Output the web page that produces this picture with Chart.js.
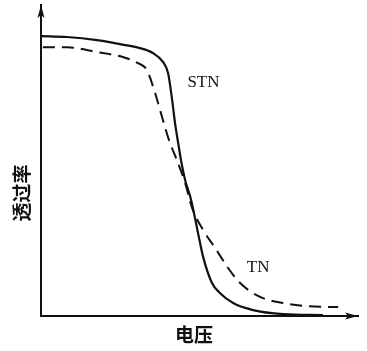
<!DOCTYPE html>
<html><head><meta charset="utf-8">
<script src="https://cdn.jsdelivr.net/npm/chart.js@4.4.1/dist/chart.umd.min.js"></script>
<style>html,body{margin:0;padding:0;background:#fff;}#wrap{width:367px;height:351px;}</style>
</head><body><div id="wrap"><canvas id="c" width="367" height="351"></canvas></div>
<script>
// Voltage (arbitrary units) and transmittance (0..1)
const stnVoltage = [0, 0.82, 1.77, 2.50, 3.13, 3.54, 3.86, 4.02, 4.15, 4.24, 4.34, 4.43, 4.56, 4.75, 4.97, 5.13, 5.41, 5.66, 6.08, 6.71, 7.66, 8.92];
const stnTrans   = [0.909, 0.906, 0.896, 0.883, 0.870, 0.854, 0.825, 0.789, 0.701, 0.627, 0.562, 0.506, 0.442, 0.377, 0.269, 0.192, 0.107, 0.075, 0.042, 0.019, 0.006, 0.003];
const tnVoltage  = [0.06, 0.82, 1.77, 2.59, 3.07, 3.35, 3.61, 3.83, 4.05, 4.30, 4.56, 4.78, 5.13, 5.51, 5.92, 6.30, 6.93, 7.66, 8.42, 9.40];
const tnTrans    = [0.873, 0.873, 0.857, 0.841, 0.821, 0.799, 0.724, 0.646, 0.571, 0.506, 0.432, 0.351, 0.279, 0.221, 0.156, 0.107, 0.062, 0.042, 0.032, 0.029];
const seriesNames = ['STN', 'TN'];
const xTitle = '电压';
const yTitle = '透过率';

const toPts = (xs, ys) => xs.map((x, i) => ({x: x, y: ys[i]}));
const INK = '#111';

const decor = {
  id: 'decor',
  afterDraw(chart) {
    const ctx = chart.ctx, a = chart.chartArea;
    const xs = chart.scales.x, ys = chart.scales.y;
    ctx.save();
    ctx.fillStyle = INK;
    // y arrow
    const x0 = xs.getPixelForValue(xs.min);
    ctx.beginPath();
    ctx.moveTo(x0, a.top);
    ctx.lineTo(x0 - 3.5, a.top + 13);
    ctx.lineTo(x0, a.top + 10);
    ctx.lineTo(x0 + 3.5, a.top + 13);
    ctx.closePath(); ctx.fill();
    // x arrow
    const y0 = ys.getPixelForValue(ys.min);
    ctx.beginPath();
    ctx.moveTo(a.right, y0);
    ctx.lineTo(a.right - 13, y0 - 3.5);
    ctx.lineTo(a.right - 10, y0);
    ctx.lineTo(a.right - 13, y0 + 3.5);
    ctx.closePath(); ctx.fill();
    // series labels
    ctx.font = '17px "Liberation Serif", serif';
    ctx.textAlign = 'center'; ctx.textBaseline = 'middle';
    ctx.fillText(seriesNames[0], xs.getPixelForValue(5.14), ys.getPixelForValue(0.758));
    ctx.fillText(seriesNames[1], xs.getPixelForValue(6.87), ys.getPixelForValue(0.158));
    // axis titles
    ctx.font = 'bold 19px "Noto Sans CJK SC", sans-serif';
    ctx.fillText(xTitle, 194, 335);
    ctx.translate(22, 193);
    ctx.rotate(-Math.PI / 2);
    ctx.fillText(yTitle, 0, 0);
    ctx.restore();
  }
};

new Chart(document.getElementById('c'), {
  type: 'line',
  data: {
    datasets: [
      {label: seriesNames[0], data: toPts(stnVoltage, stnTrans), borderColor: INK, borderWidth: 2.2,
       pointRadius: 0, cubicInterpolationMode: 'monotone', fill: false},
      {label: seriesNames[1], data: toPts(tnVoltage, tnTrans), borderColor: INK, borderWidth: 2,
       borderDash: [12, 7], pointRadius: 0, cubicInterpolationMode: 'monotone', fill: false}
    ]
  },
  options: {
    responsive: false, animation: false, devicePixelRatio: 1,
    layout: {padding: {left: 0, top: 5, right: 9, bottom: 0}},
    plugins: {legend: {display: false}, tooltip: {enabled: false}},
    scales: {
      x: {type: 'linear', min: 0, max: 10.03,
          grid: {display: false, drawTicks: false},
          border: {display: true, color: INK, width: 2},
          ticks: {display: false},
          afterFit: s => { s.height = 35; }},
      y: {type: 'linear', min: 0, max: 1.01,
          grid: {display: false, drawTicks: false},
          border: {display: true, color: INK, width: 2},
          ticks: {display: false},
          afterFit: s => { s.width = 41; }}
    }
  },
  plugins: [decor]
});
</script></body></html>
